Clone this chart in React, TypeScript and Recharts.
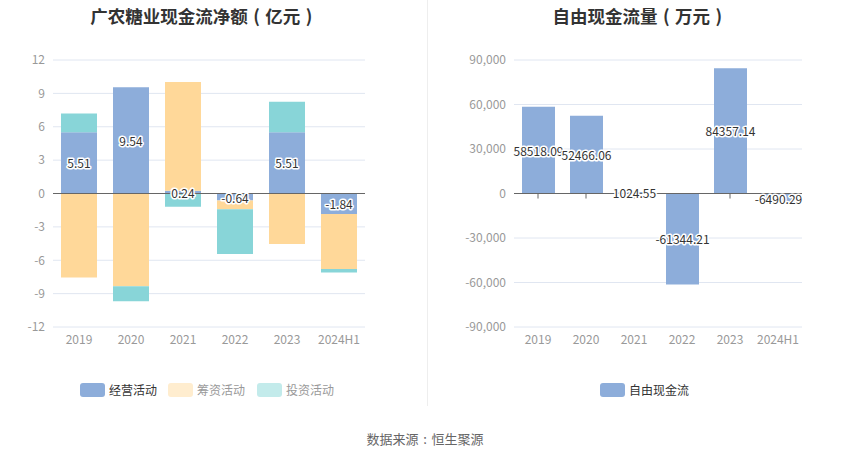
import React from 'react';
import { BarChart, Bar, XAxis, YAxis, CartesianGrid, ReferenceLine, LabelList } from 'recharts';

const categories = ['2019', '2020', '2021', '2022', '2023', '2024H1'];
const operating = [5.51, 9.54, 0.24, -0.64, 5.51, -1.84];
const financing = [-7.55, -8.34, 9.78, -0.77, -4.54, -4.94];
const investing = [1.68, -1.35, -1.2, -4.03, 2.74, -0.33];
const freeCashFlow = [58518.09, 52466.06, 1024.55, -61344.21, 84357.14, -6490.29];

const leftTicks = [-12, -9, -6, -3, 0, 3, 6, 9, 12];
const rightTicks = [-90000, -60000, -30000, 0, 30000, 60000, 90000];

const leftData = categories.map((c, i) => ({
  name: c,
  op: operating[i],
  fin: financing[i],
  inv: investing[i],
}));
const rightData = categories.map((c, i) => ({ name: c, fcf: freeCashFlow[i] }));

const FONT = '"Noto Sans CJK SC", "Noto Sans", sans-serif';
const BLUE = '#8DADDA';
const ORANGE = '#FFD899';
const TEAL = '#88D5D8';

const renderLabel = (props: any) => {
  const { x, y, width, height, value } = props;
  const cx = Number(x) + Number(width) / 2;
  const cy = Number(y) + Number(height) / 2;
  return (
    <text
      x={cx}
      y={cy}
      textAnchor="middle"
      dominantBaseline="central"
      fontSize={12}
      fontFamily={FONT}
      fill="#333"
      stroke="#fff"
      strokeWidth={3}
      strokeLinejoin="round"
      paintOrder="stroke"
    >
      {Number(value).toFixed(2)}
    </text>
  );
};

const tickStyle = { fill: '#999', fontSize: 12, fontFamily: FONT };

const Punct = ({ ch }: { ch: string }) => (
  <span style={{ display: 'inline-block', width: '1em', textAlign: 'center' }}>{ch}</span>
);

const LegendItem = ({ color, label, textColor, left, top }: any) => (
  <div style={{ position: 'absolute', left, top, display: 'flex', alignItems: 'center' }}>
    <div style={{ width: 25, height: 14, background: color, borderRadius: 3 }} />
    <span style={{ marginLeft: 4, fontSize: 12, color: textColor, fontFamily: FONT, lineHeight: '14px' }}>{label}</span>
  </div>
);

export default function App() {
  const titleStyle: React.CSSProperties = {
    position: 'absolute',
    top: 3,
    textAlign: 'center',
    fontSize: 17.5,
    fontWeight: 'bold',
    color: '#333',
    whiteSpace: 'nowrap',
  };
  return (
    <div
      style={{
        position: 'absolute',
        left: 0,
        top: 0,
        width: 850,
        height: 459,
        background: '#fff',
        fontFamily: FONT,
        overflow: 'hidden',
      }}
    >
      <div style={{ ...titleStyle, left: 0, width: 408 }}>
        广农糖业现金流净额<Punct ch="(" />亿元<Punct ch=")" />
      </div>
      <div style={{ ...titleStyle, left: 432, width: 416 }}>
        自由现金流量<Punct ch="(" />万元<Punct ch=")" />
      </div>
      <div style={{ position: 'absolute', left: 427, top: 0, width: 1, height: 406, background: '#EEEEEE' }} />

      <div style={{ position: 'absolute', left: 0, top: 0 }}>
        <BarChart
          width={427}
          height={360}
          data={leftData}
          stackOffset="sign"
          margin={{ top: 60, right: 62, bottom: 3, left: 0 }}
        >
          <CartesianGrid vertical={false} stroke="#E0E6F1" />
          <XAxis dataKey="name" axisLine={false} tickLine={false} tick={tickStyle} height={30} interval={0} />
          <YAxis
            domain={[-12, 12]}
            ticks={leftTicks}
            axisLine={false}
            tickLine={false}
            tick={tickStyle}
            width={53}
            interval={0}
          />
          <Bar dataKey="op" stackId="a" fill={BLUE} barSize={36} isAnimationActive={false}>
            <LabelList dataKey="op" content={renderLabel} />
          </Bar>
          <Bar dataKey="fin" stackId="a" fill={ORANGE} barSize={36} isAnimationActive={false} />
          <Bar dataKey="inv" stackId="a" fill={TEAL} barSize={36} isAnimationActive={false} />
          <ReferenceLine y={0} stroke="#666" strokeWidth={1} />
        </BarChart>
      </div>

      <div style={{ position: 'absolute', left: 427, top: 0 }}>
        <BarChart
          width={423}
          height={360}
          data={rightData}
          margin={{ top: 60, right: 48, bottom: 3, left: 0 }}
        >
          <CartesianGrid vertical={false} stroke="#E0E6F1" />
          <XAxis dataKey="name" axisLine={false} tickLine={false} tick={tickStyle} height={30} interval={0} />
          <YAxis
            domain={[-90000, 90000]}
            ticks={rightTicks}
            axisLine={false}
            tickLine={false}
            tick={tickStyle}
            width={87}
            interval={0}
            tickFormatter={(v: number) => v.toLocaleString('en-US')}
          />
          <ReferenceLine y={0} stroke="#666" strokeWidth={1} />
          {rightData
            .filter((d) => d.fcf > 0)
            .map((d) => (
              <ReferenceLine
                key={d.name}
                segment={[
                  { x: d.name, y: 0 },
                  { x: d.name, y: -3400 },
                ]}
                stroke="#666"
              />
            ))}
          <Bar dataKey="fcf" fill={BLUE} barSize={33} isAnimationActive={false}>
            <LabelList dataKey="fcf" content={renderLabel} />
          </Bar>
        </BarChart>
      </div>

      <LegendItem color={BLUE} label="经营活动" textColor="#333" left={80} top={383} />
      <LegendItem color="#FFEDCF" label="筹资活动" textColor="#999" left={168} top={383} />
      <LegendItem color="#C3EBEB" label="投资活动" textColor="#999" left={257} top={383} />
      <LegendItem color={BLUE} label="自由现金流" textColor="#333" left={600} top={383} />

      <div
        style={{
          position: 'absolute',
          left: 0,
          width: 850,
          top: 429,
          textAlign: 'center',
          fontSize: 13,
          color: '#666',
        }}
      >
        数据来源<Punct ch=":" />恒生聚源
      </div>
    </div>
  );
}
